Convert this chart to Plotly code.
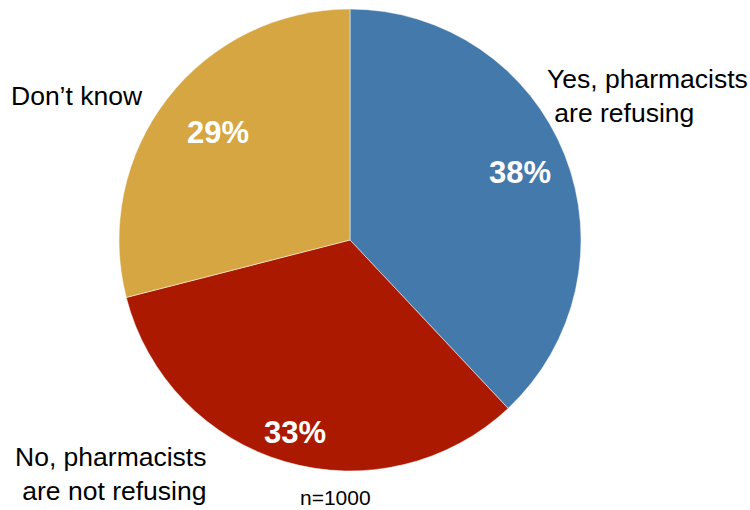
import plotly.graph_objects as go

categories = ["Yes, pharmacists are refusing", "No, pharmacists are not refusing", "Don't know"]
values = [38, 33, 29]
colors = ["#4379AB", "#AB1A00", "#D5A642"]
pct_labels = ["38%", "33%", "29%"]
sample_note = "n=1000"

W, H = 750, 510
fig = go.Figure(go.Pie(
    labels=categories, values=values, sort=False, direction="clockwise", rotation=0,
    marker=dict(colors=colors, line=dict(color="white", width=0.5)),
    textinfo="none", hoverinfo="label+percent", showlegend=False,
    domain=dict(x=[119 / W, 581 / W], y=[1 - 472 / H, 1 - 8 / H]),
))

font = "Liberation Sans, Arial, sans-serif"
ann = []
# percentage labels
pct_pos = [(520, 172), (295, 432), (218, 133)]
for t, (x, y) in zip(pct_labels, pct_pos):
    ann.append(dict(text=f"<b>{t}</b>", x=x / W, y=1 - y / H, xref="paper", yref="paper",
                    showarrow=False, font=dict(family=font, size=31, color="white"),
                    xanchor="center", yanchor="middle"))
# category labels
ann.append(dict(text="Yes, pharmacists<br> are refusing", x=545 / W, y=1 - 96 / H,
                xref="paper", yref="paper", showarrow=False, align="left",
                xanchor="left", yanchor="middle", font=dict(family=font, size=26.5, color="black")))
ann.append(dict(text="No, pharmacists<br>are not refusing", x=208 / W, y=1 - 474 / H,
                xref="paper", yref="paper", showarrow=False, align="right",
                xanchor="right", yanchor="middle", font=dict(family=font, size=26.5, color="black")))
ann.append(dict(text="Don’t know", x=9 / W, y=1 - 96 / H,
                xref="paper", yref="paper", showarrow=False, align="left",
                xanchor="left", yanchor="middle", font=dict(family=font, size=26.5, color="black")))
ann.append(dict(text=sample_note, x=335 / W, y=1 - 497 / H,
                xref="paper", yref="paper", showarrow=False,
                xanchor="center", yanchor="middle", font=dict(family=font, size=21, color="black")))

fig.update_layout(width=W, height=H, margin=dict(l=0, r=0, t=0, b=0),
                  paper_bgcolor="white", plot_bgcolor="white", annotations=ann)
fig.write_html("out.html", config={"displayModeBar": False},
               post_script="document.body.style.margin='0';document.body.style.overflow='hidden';")
